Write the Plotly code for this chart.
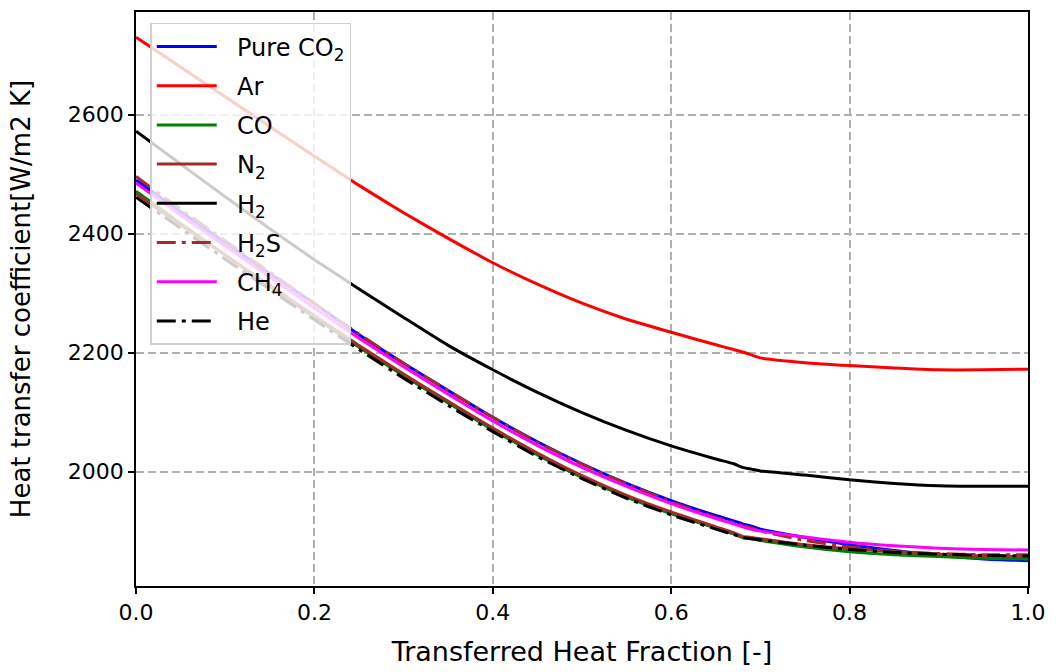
import plotly.graph_objects as go

# Transferred heat fraction (x) at which each coefficient curve is sampled
fraction = [0.0, 0.05, 0.10, 0.15, 0.20, 0.25, 0.30, 0.35, 0.40, 0.45, 0.50, 0.55,
            0.60, 0.65, 0.67, 0.68, 0.69, 0.70, 0.75, 0.80, 0.85, 0.90, 0.95, 1.0]

# Heat transfer coefficient [W/m2 K] for each mixture
htc_pure_co2 = [2490, 2437, 2385, 2333, 2282, 2230, 2182, 2136, 2091, 2050, 2013, 1980,
                1951, 1926, 1917, 1912, 1908, 1903, 1889, 1877, 1867, 1859, 1853, 1850]
htc_ar = [2730, 2680, 2630, 2580, 2530, 2481, 2435, 2392, 2351, 2315, 2283, 2256,
          2234, 2213, 2205, 2201, 2196, 2191, 2183, 2178, 2174, 2171, 2171, 2172]
htc_co = [2471, 2417, 2364, 2311, 2259, 2209, 2161, 2115, 2070, 2028, 1990, 1957,
          1929, 1905, 1895, 1889, 1887, 1884, 1873, 1865, 1860, 1857, 1854, 1853]
htc_n2 = [2467, 2415, 2364, 2313, 2262, 2212, 2164, 2118, 2073, 2031, 1993, 1960,
          1932, 1907, 1897, 1891, 1889, 1887, 1877, 1870, 1865, 1861, 1858, 1857]
htc_h2 = [2572, 2517, 2462, 2408, 2356, 2307, 2259, 2212, 2171, 2133, 2099, 2069,
          2043, 2021, 2013, 2007, 2004, 2001, 1994, 1986, 1980, 1976, 1975, 1975]
htc_h2s = [2496, 2441, 2388, 2335, 2283, 2231, 2182, 2136, 2091, 2049, 2012, 1979,
           1949, 1923, 1914, 1909, 1905, 1900, 1884, 1873, 1866, 1862, 1860, 1860]
htc_ch4 = [2485, 2431, 2379, 2327, 2275, 2224, 2176, 2130, 2085, 2044, 2007, 1975,
           1946, 1921, 1912, 1907, 1903, 1900, 1890, 1881, 1875, 1871, 1869, 1868]
htc_he = [2461, 2409, 2357, 2306, 2255, 2205, 2157, 2111, 2067, 2025, 1988, 1955,
          1927, 1903, 1894, 1889, 1887, 1885, 1876, 1869, 1864, 1861, 1859, 1858]

x_ticks = [0.0, 0.2, 0.4, 0.6, 0.8, 1.0]
x_tick_labels = ["0.0", "0.2", "0.4", "0.6", "0.8", "1.0"]
y_ticks = [2000, 2200, 2400, 2600]
y_tick_labels = ["2000", "2200", "2400", "2600"]

DASHDOT = "19px,6px,4px,6px"
GAP = "\u00a0\u00a0"  # spacing between legend sample and label

series = [
    ("Pure CO<sub>2</sub>", htc_pure_co2, "#0000ff", "solid"),
    ("Ar", htc_ar, "#ff0000", "solid"),
    ("CO", htc_co, "#008000", "solid"),
    ("N<sub>2</sub>", htc_n2, "#a52a2a", "solid"),
    ("H<sub>2</sub>", htc_h2, "#000000", "solid"),
    ("H<sub>2</sub>S", htc_h2s, "#a52a2a", DASHDOT),
    ("CH<sub>4</sub>", htc_ch4, "#ff00ff", "solid"),
    ("He", htc_he, "#000000", DASHDOT),
]

fig = go.Figure()
for i, (name, values, color, dash) in enumerate(series):
    fig.add_trace(go.Scatter(
        x=fraction, y=values, mode="lines", name=GAP + name,
        legendgroup=f"g{i}",
        line=dict(color=color, width=3, dash=dash, shape="spline", smoothing=0.5),
    ))

font = "DejaVu Sans"
axis_common = dict(
    showline=True, linecolor="black", linewidth=1.5, mirror=True,
    ticks="outside", ticklen=6, tickwidth=1.5, tickcolor="black",
    showgrid=True, gridcolor="#b0b0b0", gridwidth=1.5, griddash="8px,4px",
    zeroline=False,
    tickfont=dict(family=font, size=22, color="black"),
)

fig.update_layout(
    width=1056, height=672,
    margin=dict(l=136, r=26, t=10, b=83),
    paper_bgcolor="white", plot_bgcolor="white",
    font=dict(family=font, color="black"),
    showlegend=True,
    legend=dict(
        x=0.016, y=0.981, xanchor="left", yanchor="top",
        bgcolor="rgba(255,255,255,0.8)", bordercolor="#d0d0d0", borderwidth=1.5,
        font=dict(family=font, size=24, color="black"),
        tracegroupgap=5, itemwidth=60,
    ),
    xaxis=dict(
        range=[0, 1], tickvals=x_ticks, ticktext=x_tick_labels,
        title=dict(text="Transferred Heat Fraction [-]",
                   font=dict(family=font, size=27, color="black"), standoff=18),
        **axis_common,
    ),
    yaxis=dict(
        range=[1807.5, 2772.5], tickvals=y_ticks, ticktext=y_tick_labels,
        title=dict(text="Heat transfer coefficient[W/m2 K]",
                   font=dict(family=font, size=26, color="black"), standoff=30),
        **axis_common,
    ),
)

fig.write_html("out.html")
